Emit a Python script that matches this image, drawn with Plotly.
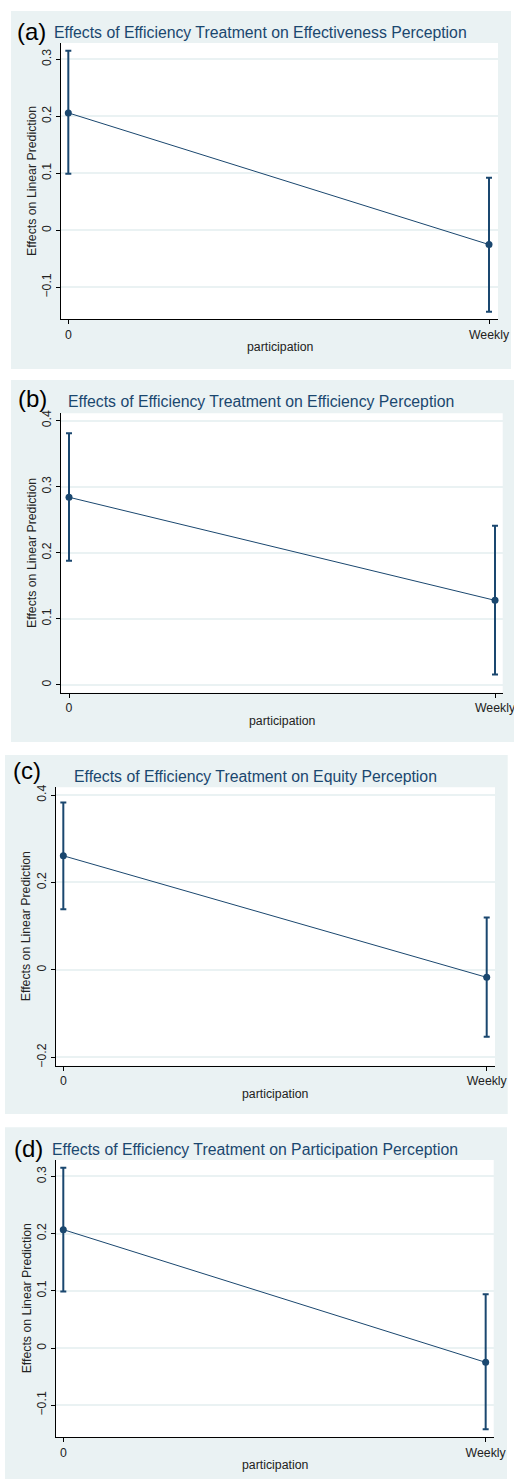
import plotly.graph_objects as go

# ---------------- data ----------------
categories = ["0", "Weekly"]
cat_pos = [0, 1]

panel_labels = ["(a)", "(b)", "(c)", "(d)"]
titles = [
    "Effects of Efficiency Treatment on Effectiveness Perception",
    "Effects of Efficiency Treatment on Efficiency Perception",
    "Effects of Efficiency Treatment on Equity Perception",
    "Effects of Efficiency Treatment on Participation Perception",
]

est_a = [0.206, -0.025]
lo_a = [0.099, -0.143]
hi_a = [0.315, 0.092]

est_b = [0.284, 0.128]
lo_b = [0.188, 0.016]
hi_b = [0.381, 0.241]

est_c = [0.261, -0.017]
lo_c = [0.139, -0.153]
hi_c = [0.383, 0.120]

est_d = [0.207, -0.025]
lo_d = [0.099, -0.142]
hi_d = [0.315, 0.094]

yticks_a = [-0.1, 0, 0.1, 0.2, 0.3]
yticks_b = [0, 0.1, 0.2, 0.3, 0.4]
yticks_c = [-0.2, 0, 0.2, 0.4]
yticks_d = [-0.1, 0, 0.1, 0.2, 0.3]

yrange_a = [-0.1556, 0.3286]
yrange_b = [-0.0117, 0.411]
yrange_c = [-0.219, 0.4176]
yrange_d = [-0.156, 0.3287]

xrange_a = [-0.0174, 1.0214]
xrange_b = [-0.0188, 1.018]
xrange_c = [-0.018, 1.0196]
xrange_d = [-0.018, 1.019]

x_title = "participation"
y_title = "Effects on Linear Prediction"

# ---------------- layout geometry (pixels) ----------------
W, H = 514, 1479
# plot area: left, right, top, bottom ; background: left, right, top, bottom
plots = [(61, 498, 43, 319), (61, 502.7, 413.3, 692.7),
         (55.7, 495, 787.3, 1065.7), (55.7, 493.7, 1160, 1437.3)]
bgs = [(11, 511, 11, 369), (11, 514, 380, 742),
       (5, 507.7, 755, 1114), (5, 507, 1127.3, 1479)]
label_pos = [(15, 31), (16, 398), (11, 770), (12, 1148)]
title_pos = [(52, 32), (66, 402), (72, 776.5), (50, 1149)]

NAVY = "#1A476F"
BG = "#EAF2F3"
FONT = "Liberation Sans, Arial, sans-serif"


def px(x):
    return x / W


def py(y):
    return 1 - y / H


data = [(est_a, lo_a, hi_a, yticks_a, yrange_a, xrange_a),
        (est_b, lo_b, hi_b, yticks_b, yrange_b, xrange_b),
        (est_c, lo_c, hi_c, yticks_c, yrange_c, xrange_c),
        (est_d, lo_d, hi_d, yticks_d, yrange_d, xrange_d)]

fig = go.Figure()
shapes = []
annotations = []
layout_axes = {}

for i, (est, lo, hi, yt, yr, xr) in enumerate(data):
    n = i + 1
    xa = "x" if n == 1 else f"x{n}"
    ya = "y" if n == 1 else f"y{n}"
    fig.add_trace(go.Scatter(
        x=cat_pos, y=est, xaxis=xa, yaxis=ya, mode="lines+markers",
        line=dict(color=NAVY, width=1),
        marker=dict(color=NAVY, size=7),
        error_y=dict(type="data", symmetric=False,
                     array=[h - e for h, e in zip(hi, est)],
                     arrayminus=[e - l for e, l in zip(est, lo)],
                     color=NAVY, thickness=2, width=3),
        showlegend=False, hoverinfo="skip"))

    l, r, t, b = plots[i]
    bl, br, bt, bb = bgs[i]
    shapes.append(dict(type="rect", xref="paper", yref="paper", layer="below",
                       x0=px(bl), x1=px(br), y0=py(bb), y1=py(bt),
                       fillcolor=BG, line=dict(width=0)))
    shapes.append(dict(type="rect", xref="paper", yref="paper", layer="below",
                       x0=px(l), x1=px(r), y0=py(b), y1=py(t),
                       fillcolor="white", line=dict(width=0)))

    xkey = "xaxis" if n == 1 else f"xaxis{n}"
    ykey = "yaxis" if n == 1 else f"yaxis{n}"
    layout_axes[xkey] = dict(
        domain=[px(l), px(r)], anchor=ya, range=xr, automargin=False,
        tickvals=cat_pos, ticktext=categories, ticklabeloverflow="allow",
        ticks="outside", ticklen=4, tickcolor="black", tickwidth=1,
        showline=True, linecolor="black", linewidth=1,
        showgrid=False, zeroline=False,
        tickfont=dict(family=FONT, size=12.3, color="#222"))
    layout_axes[ykey] = dict(
        domain=[py(b), py(t)], anchor=xa, range=yr, automargin=False,
        tickvals=yt, tickangle=-90, ticklabeloverflow="allow",
        ticks="outside", ticklen=4, tickcolor="black", tickwidth=1,
        showline=True, linecolor="black", linewidth=1,
        showgrid=True, gridcolor=BG, gridwidth=1.5, zeroline=False,
        tickfont=dict(family=FONT, size=12.3, color="#222"))

    # panel label and title
    lx, ly = label_pos[i]
    annotations.append(dict(text=panel_labels[i], xref="paper", yref="paper",
                            x=px(lx), y=py(ly), xanchor="left", yanchor="middle",
                            showarrow=False,
                            font=dict(family=FONT, size=24, color="black")))
    tx, ty = title_pos[i]
    annotations.append(dict(text=titles[i], xref="paper", yref="paper",
                            x=px(tx), y=py(ty), xanchor="left", yanchor="middle",
                            showarrow=False,
                            font=dict(family=FONT, size=15.8, color=NAVY)))
    # axis titles
    annotations.append(dict(text=x_title, xref="paper", yref="paper",
                            x=px((l + r) / 2), y=py(b + 28), xanchor="center",
                            yanchor="middle", showarrow=False,
                            font=dict(family=FONT, size=12.3, color="#222")))
    annotations.append(dict(text=y_title, xref="paper", yref="paper",
                            x=px(l - 29), y=py((t + b) / 2), xanchor="center",
                            yanchor="middle", textangle=-90, showarrow=False,
                            font=dict(family=FONT, size=12.3, color="#222")))

fig.update_layout(
    width=W, height=H, margin=dict(l=0, r=0, t=0, b=0), autosize=False,
    paper_bgcolor="white", plot_bgcolor="white",
    shapes=shapes, annotations=annotations, **layout_axes)

fig.write_html("out.html",
               config={"responsive": False, "displayModeBar": False},
               post_script="document.body.style.margin='0';"
                           "document.body.style.overflow='hidden';")
